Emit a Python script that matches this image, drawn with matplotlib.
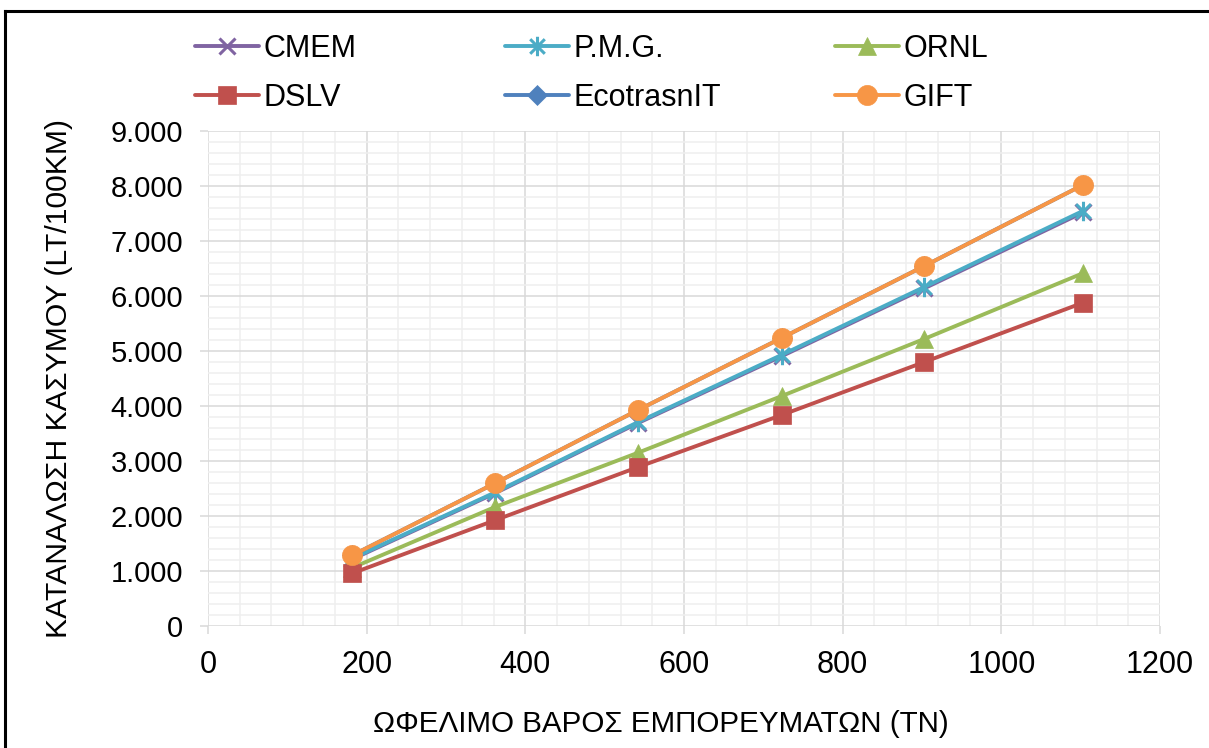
import matplotlib
matplotlib.use("Agg")
import matplotlib.pyplot as plt
from matplotlib.lines import Line2D
from matplotlib.path import Path
from matplotlib.ticker import MultipleLocator, FuncFormatter

plt.rcParams['font.family'] = ['Liberation Sans', 'DejaVu Sans']

# Payload (tonnes) and fuel consumption (lt/100km) per model
payload = [182, 362, 542, 723, 903, 1103]
cmem = [1215, 2415, 3690, 4905, 6140, 7520]
pmg = [1230, 2430, 3707, 4928, 6165, 7548]
ornl = [1060, 2165, 3150, 4180, 5220, 6415]
dslv = [959, 1924, 2889, 3835, 4800, 5878]
ecotransit = [1287, 2597, 3926, 5236, 6546, 8020]
gift = [1287, 2597, 3926, 5236, 6546, 8020]

x_label = "ΩΦΕΛΙΜΟ ΒΑΡΟΣ ΕΜΠΟΡΕΥΜΑΤΩΝ (ΤΝ)"
y_label = "ΚΑΤΑΝΑΛΩΣΗ ΚΑΣΥΜΟΥ (LT/100KM)"

# asterisk marker: an x crossed by a vertical bar
star_path = Path(
    [(0, -1), (0, 1), (-0.75, -0.75), (0.75, 0.75), (-0.75, 0.75), (0.75, -0.75)],
    [Path.MOVETO, Path.LINETO, Path.MOVETO, Path.LINETO, Path.MOVETO, Path.LINETO],
)

series = [
    ("CMEM", cmem, "#8064A2", "x", 12, 2),
    ("P.M.G.", pmg, "#4BACC6", star_path, 14, 3),
    ("ORNL", ornl, "#9BBB59", "^", 13, 4),
    ("DSLV", dslv, "#C0504D", "s", 13, 5),
    ("EcotrasnIT", ecotransit, "#4F81BD", "D", 10, 6),
    ("GIFT", gift, "#F79646", "o", 14.5, 7),
]

fig = plt.figure(figsize=(12.09, 7.48), dpi=100)
ax = fig.add_axes([208 / 1209, 1 - 626 / 748, (1160 - 208) / 1209, (626 - 131) / 748])

handles = {}
for name, vals, color, marker, ms, z in series:
    hollow = marker in ("x",) or isinstance(marker, Path)
    (h,) = ax.plot(payload, vals, color=color, lw=2.8, marker=marker, markersize=ms,
                   markerfacecolor=color, markeredgecolor=color,
                   markeredgewidth=2.2 if hollow else 0.5, zorder=z, label=name,
                   solid_capstyle='round')
    handles[name] = h

ax.set_xlim(0, 1200)
ax.set_ylim(0, 9000)
ax.xaxis.set_major_locator(MultipleLocator(200))
ax.xaxis.set_minor_locator(MultipleLocator(40))
ax.yaxis.set_major_locator(MultipleLocator(1000))
ax.yaxis.set_minor_locator(MultipleLocator(200))
ax.yaxis.set_major_formatter(FuncFormatter(lambda v, p: f"{int(round(v)):,}".replace(",", ".")))

ax.grid(which='major', color='#D9D9D9', lw=1.1, zorder=0)
ax.grid(which='minor', color='#EFEFEF', lw=1.1, zorder=0)
ax.set_axisbelow(True)
for s in ax.spines.values():
    s.set_visible(False)
ax.tick_params(which='major', length=6, width=1.1, color='#D9D9D9', labelcolor='black')
ax.tick_params(axis='y', pad=12, labelsize=21)
ax.tick_params(axis='x', pad=11, labelsize=22)
ax.tick_params(which='minor', length=0)

ax.set_xlabel(x_label, fontsize=21.3, labelpad=22)
ax.xaxis.label.set_x(0.476)
ax.set_ylabel(y_label, fontsize=21.7, labelpad=27)

# three legend columns laid out at fixed positions
columns = [("CMEM", "DSLV", 195), ("P.M.G.", "EcotrasnIT", 505), ("ORNL", "GIFT", 835)]
for a, b, xpix in columns:
    fig.legend([handles[a], handles[b]], [a, b], loc='upper left',
               bbox_to_anchor=(xpix / 1209, 1 - 34 / 748), frameon=False,
               fontsize=22, handlelength=2.1, handletextpad=0.15,
               borderpad=0, borderaxespad=0, labelspacing=0.62)

# figure frame
fig.add_artist(Line2D([5 / 1209, 5 / 1209], [0, 1 - 11 / 748], transform=fig.transFigure,
                      color='black', lw=2.2))
fig.add_artist(Line2D([5 / 1209, 1], [1 - 11 / 748, 1 - 11 / 748], transform=fig.transFigure,
                      color='black', lw=2.2))

fig.savefig("out.png", dpi=100, facecolor='white')
